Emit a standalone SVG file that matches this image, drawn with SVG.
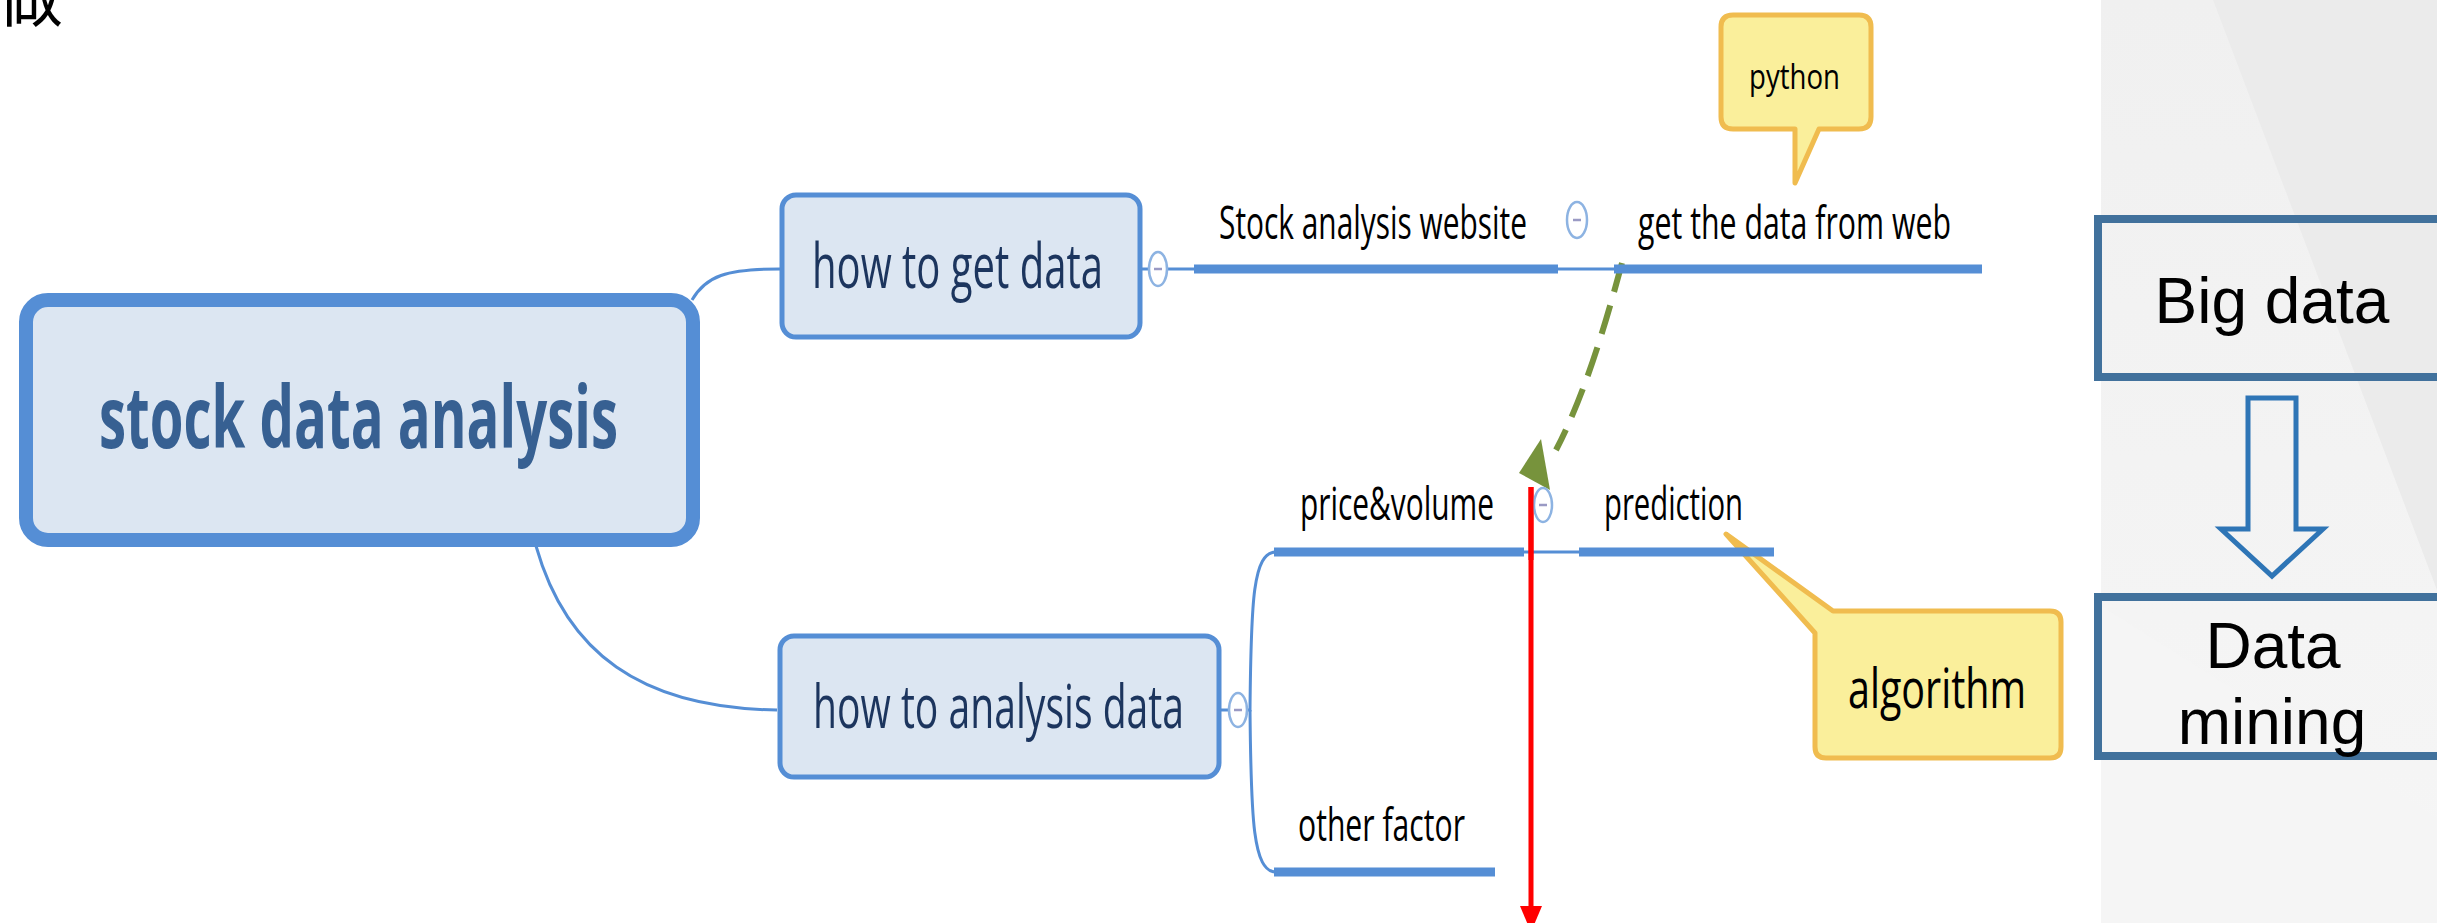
<svg xmlns="http://www.w3.org/2000/svg" width="2437" height="923" viewBox="0 0 2437 923">
<defs>
<style>
.t{font-family:"Open Sans","Noto Sans","DejaVu Sans",sans-serif}
.box{fill:#dce6f2;stroke:#558ed5}
.bar{stroke:#558ed5;stroke-width:9;fill:none}
.thin{stroke:#558ed5;stroke-width:3;fill:none}
.col ellipse{fill:#fff;stroke:#8db3e2;stroke-width:2.5}
.col line{stroke:#9a9ac4;stroke-width:2.5}
.callout{fill:#faef9b;stroke:#f0bc4f;stroke-width:5;stroke-linejoin:round}
.sub{font-size:46px;fill:#000}
.panel{font-family:"Liberation Sans",Arial,sans-serif;font-size:64px;fill:#000}
.pbox{fill:none;stroke:#41719c;stroke-width:8}
</style>
<linearGradient id="pg" x1="0" y1="0" x2="0" y2="1">
<stop offset="0" stop-color="#f0f0f0"/>
<stop offset="1" stop-color="#f6f6f6"/>
</linearGradient>
</defs>
<rect width="2437" height="923" fill="#fff"/>
<g id="panel-bg">
<rect x="2101" y="0" width="336" height="923" fill="url(#pg)"/>
<polygon points="2213,0 2437,0 2437,590" fill="#ebebeb"/>
<polygon points="2101,606 2437,818 2437,923 2101,923" fill="#f5f5f5"/>
</g>
<text x="-3" y="21" font-size="66" font-family="'Noto Sans CJK SC',sans-serif" fill="#000">做</text>

<g id="callout-algorithm">
<path class="callout" d="M1726,534 L1833,611 L2050,611 Q2061,611 2061,622 L2061,747 Q2061,758 2050,758 L1826,758 Q1815,758 1815,747 L1815,633 Z"/>
<text class="t" x="1848" y="708" font-size="54" textLength="178" lengthAdjust="spacingAndGlyphs" fill="#000">algorithm</text>
</g>
<g id="callout-python">
<path class="callout" d="M1733,15 L1859,15 Q1871,15 1871,27 L1871,117 Q1871,129 1859,129 L1819,129 L1795,183 L1795,129 L1733,129 Q1721,129 1721,117 L1721,27 Q1721,15 1733,15 Z"/>
<text class="t" x="1749" y="89" font-size="35" textLength="91" lengthAdjust="spacingAndGlyphs" fill="#000">python</text>
</g>

<g id="connectors">
<path class="thin" d="M692,300 C706,276 726,269 780,269"/>
<path class="thin" d="M536,546 C566,652 640,708 777,710"/>
<line class="thin" x1="1142" y1="269" x2="1148" y2="269"/>
<line class="thin" x1="1168" y1="269" x2="1196" y2="269"/>
<line class="thin" x1="1557" y1="269" x2="1615" y2="269"/>
<line class="thin" x1="1221" y1="710" x2="1228" y2="710"/>
<path class="thin" stroke-width="2" d="M1248,710 L1250,710 C1251,600 1253,552 1276,552"/>
<path class="thin" stroke-width="2" d="M1250,710 C1251,820 1253,872 1276,872"/>
<line class="thin" x1="1523" y1="552" x2="1581" y2="552"/>
<path d="M1622,263 C1606,322 1586,392 1556,450" fill="none" stroke="#77933c" stroke-width="6" stroke-dasharray="30 14"/>
<polygon points="1519,473 1541,439 1550,490" fill="#77933c"/>
<line x1="1531" y1="487" x2="1531" y2="912" stroke="#ff0000" stroke-width="5"/>
<polygon points="1520,906 1542,906 1531,932" fill="#ff0000"/>
</g>

<g id="root">
<rect class="box" x="26" y="300" width="667" height="240" rx="22" stroke-width="14"/>
<text class="t" x="99" y="448" font-size="86" font-weight="bold" textLength="519" lengthAdjust="spacingAndGlyphs" fill="#376092">stock data analysis</text>
</g>
<g id="how-to-get-data">
<rect class="box" x="782" y="195" width="358" height="142" rx="14" stroke-width="5"/>
<text class="t" x="812" y="288" font-size="63" textLength="291" lengthAdjust="spacingAndGlyphs" fill="#1c355e">how to get data</text>
</g>
<g id="how-to-analysis-data">
<rect class="box" x="780" y="636" width="439" height="141" rx="14" stroke-width="5"/>
<text class="t" x="813" y="728" font-size="61" textLength="371" lengthAdjust="spacingAndGlyphs" fill="#1c355e">how to analysis data</text>
</g>
<g id="stock-analysis-website">
<line class="bar" x1="1194" y1="269" x2="1558" y2="269"/>
<text class="t sub" x="1219" y="239" textLength="308" lengthAdjust="spacingAndGlyphs">Stock analysis website</text>
</g>
<g id="get-data-from-web">
<line class="bar" x1="1614" y1="269" x2="1982" y2="269"/>
<text class="t sub" x="1638" y="239" textLength="313" lengthAdjust="spacingAndGlyphs">get the data from web</text>
</g>
<g id="price-volume">
<line class="bar" x1="1274" y1="552" x2="1524" y2="552"/>
<text class="t sub" x="1300" y="520" textLength="194" lengthAdjust="spacingAndGlyphs">price&amp;volume</text>
</g>
<g id="prediction">
<line class="bar" x1="1579" y1="552" x2="1774" y2="552"/>
<text class="t sub" x="1604" y="520" textLength="139" lengthAdjust="spacingAndGlyphs">prediction</text>
</g>
<g id="other-factor">
<line class="bar" x1="1274" y1="872" x2="1495" y2="872"/>
<text class="t sub" x="1298" y="841" textLength="167" lengthAdjust="spacingAndGlyphs">other factor</text>
</g>
<g id="collapse-icons" class="col">
<ellipse cx="1158" cy="269" rx="9" ry="17"/><line x1="1154" y1="269" x2="1162" y2="269"/>
<ellipse cx="1577" cy="220" rx="10" ry="18"/><line x1="1573" y1="220" x2="1581" y2="220"/>
<ellipse cx="1238" cy="710" rx="9" ry="17"/><line x1="1234" y1="710" x2="1242" y2="710"/>
<ellipse cx="1543" cy="505" rx="9" ry="17"/><line x1="1539" y1="505" x2="1547" y2="505"/>
</g>
<line x1="1531" y1="487" x2="1531" y2="560" stroke="#ff0000" stroke-width="5"/>

<g id="big-data">
<rect class="pbox" x="2098" y="219" width="360" height="158"/>
<text class="panel" x="2272" y="323" text-anchor="middle">Big data</text>
</g>
<g id="down-arrow">
<polygon points="2248,398 2296,398 2296,529 2323,529 2272,576 2221,529 2248,529" fill="none" stroke="#2e75b6" stroke-width="5"/>
</g>
<g id="data-mining">
<rect class="pbox" x="2098" y="597" width="360" height="159"/>
<text class="panel" x="2273" y="668" text-anchor="middle">Data</text>
<text class="panel" x="2272" y="744" text-anchor="middle">mining</text>
</g>
</svg>
